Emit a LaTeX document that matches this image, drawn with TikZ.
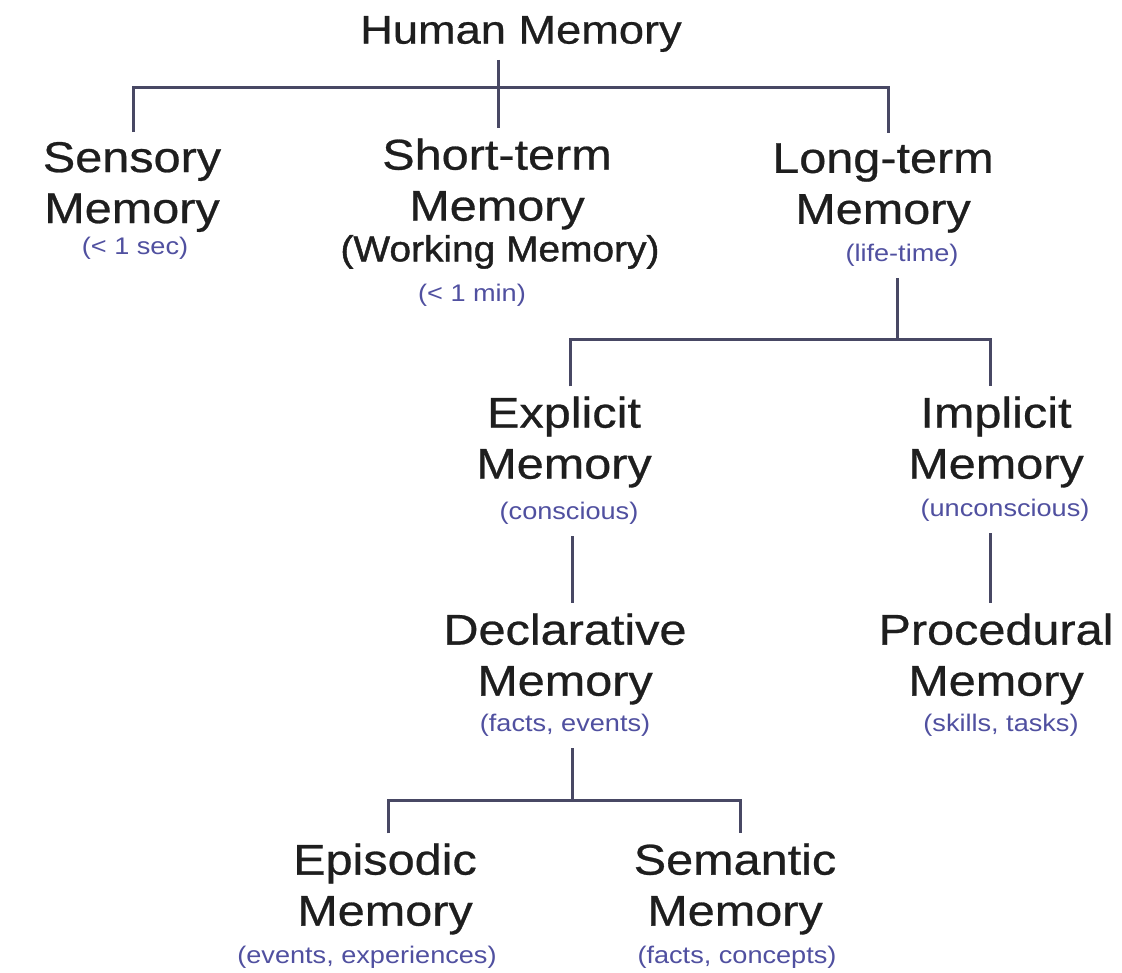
\documentclass[tikz,border=0pt]{standalone}
\usepackage{fontspec}
\setmainfont[FakeStretch=1.13]{Liberation Sans}
\newfontfamily\heavyfont[FakeStretch=1.13,FakeBold=0.6]{Liberation Sans}
\newfontfamily\wmfont[FakeStretch=1.08,FakeBold=1.2]{Liberation Sans}
\definecolor{txt}{RGB}{30,30,30}
\definecolor{sub}{RGB}{80,80,160}
\definecolor{ln}{RGB}{72,72,100}
\begin{document}
\begin{tikzpicture}[x=1pt,y=-1pt,
  mainbox/.style={font=\heavyfont\fontsize{43}{51}\selectfont, text=txt, align=center, inner sep=0pt, outer sep=10pt},
  titlebox/.style={font=\heavyfont\fontsize{40}{48}\selectfont, text=txt, inner sep=0pt, outer sep=8pt},
  subbox/.style={font=\fontsize{24}{42}\selectfont, text=sub, align=center, inner sep=0pt, outer sep=12pt},
  wmbox/.style={font=\wmfont\fontsize{36}{42}\selectfont, text=txt, inner sep=0pt, outer sep=0pt},
  conn/.style={draw=ln, line width=3pt}]
\fill[white] (0,0) rectangle (1122,973);
\useasboundingbox (0,0) rectangle (1122,973);
% nodes
\node[titlebox] (hm) at (521,34) {Human Memory};
\node[mainbox] (sm) at (132,187) {Sensory\\Memory};
\node[subbox] (sms) at (135,248) {(< 1 sec)};
\node[mainbox] (stm) at (497,184) {Short-term\\Memory};
\node[wmbox] (wm) at (500,252) {(Working Memory)};
\node[subbox] (stms) at (472,295) {(< 1 min)};
\node[mainbox] (ltm) at (883,188) {Long-term\\Memory};
\node[subbox] (lts) at (902,255) {(life-time)};
\node[mainbox] (exp) at (564,442) {Explicit\\Memory};
\node[subbox] (exps) at (569,513) {(conscious)};
\node[mainbox] (imp) at (996,442) {Implicit\\Memory};
\node[subbox] (imps) at (1005,510) {(unconscious)};
\node[mainbox] (dec) at (565,659) {Declarative\\Memory};
\node[subbox] (decs) at (565,725) {(facts, events)};
\node[mainbox] (proc) at (996,659) {Procedural\\Memory};
\node[subbox] (procs) at (1001,725) {(skills, tasks)};
\node[mainbox] (epi) at (385,889) {Episodic\\Memory};
\node[subbox] (epis) at (367,957) {(events, experiences)};
\node[mainbox] (sem) at (735,889) {Semantic\\Memory};
\node[subbox] (sems) at (737,957) {(facts, concepts)};
% junction coordinates
\coordinate (b1) at (498,88);
\coordinate (b2) at (897,340);
\coordinate (b3) at (572,800);
\coordinate (ip) at ([xshift=-6pt]imp.north);
% connectors
\draw[conn] (hm.south -| b1) -- (stm.north -| b1);
\draw[conn] ([xshift=1pt]sm.north) |- (b1) -| ([xshift=5pt]ltm.north);
\draw[conn] (lts.south -| b2) -- (b2);
\draw[conn] ([xshift=6pt]exp.north) |- (b2) -| (ip);
\draw[conn] (exps.south -| b3) -- (dec.north -| b3);
\draw[conn] (imps.south -| ip) -- (proc.north -| ip);
\draw[conn] (decs.south -| b3) -- (b3);
\draw[conn] ([xshift=3pt]epi.north) |- (b3) -| ([xshift=5pt]sem.north);
\end{tikzpicture}
\end{document}
